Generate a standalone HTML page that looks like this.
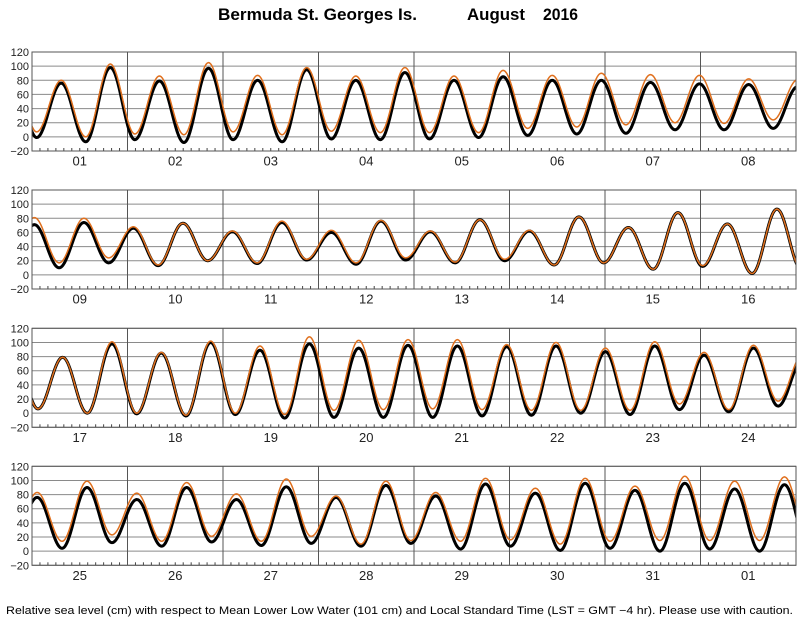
<!DOCTYPE html>
<html><head><meta charset="utf-8"><title>Bermuda St. Georges Is. August 2016</title>
<style>
html,body{margin:0;padding:0;background:#fff;}
svg{display:block;font-family:"Liberation Sans",Arial,sans-serif;}
</style></head>
<body>
<svg id="chart" width="800" height="618" viewBox="0 0 800 618">
<text x="218" y="20" font-size="17" font-weight="bold" textLength="199" lengthAdjust="spacingAndGlyphs">Bermuda St. Georges Is.</text>
<text x="467" y="20" font-size="17" font-weight="bold" textLength="58" lengthAdjust="spacingAndGlyphs">August</text>
<text x="543" y="20" font-size="17" font-weight="bold" textLength="35" lengthAdjust="spacingAndGlyphs">2016</text>
<text x="6" y="614" font-size="11" textLength="787" lengthAdjust="spacingAndGlyphs">Relative sea level (cm) with respect to Mean Lower Low Water (101 cm) and Local Standard Time (LST = GMT −4 hr). Please use with caution.</text>
<g id="panels"></g>
</svg>
<script>
// Day labels per panel
const dayLabels1 = ["01","02","03","04","05","06","07","08"];
const dayLabels2 = ["09","10","11","12","13","14","15","16"];
const dayLabels3 = ["17","18","19","20","21","22","23","24"];
const dayLabels4 = ["25","26","27","28","29","30","31","01"];
const yTicks = [120,100,80,60,40,20,0,-20];
const yTickLabels = ["120","100","80","60","40","20","0","\u221220"];
// First extremum time (hours from panel start) and interval between extrema
const firstExtremumHour = [-5.0, -5.62, -4.7, -4.96];
const extremumStep = [6.17, 6.22, 6.2, 6.26];
// Predicted (black) extremum heights, cm
const predicted1 = [95,-1,76,-7,98,-4,79,-8,97,-4,80,-7,95,-3,80,-4,91,-3,80,-1,85,2,80,4,80,5,77,10,75,10,74,12,71];
const predicted2 = [12,71,10,74,17,66,13,73,20,61,16,74,21,60,15,76,21,61,17,78,20,62,14,82,17,67,8,88,12,72,2,93,7];
const predicted3 = [93,6,79,0,98,-1,85,-4,100,-2,89,-7,98,-6,92,-6,96,-6,95,-4,94,-3,95,0,87,-2,95,5,82,2,92,10,76];
const predicted4 = [10,76,4,90,12,73,7,90,13,73,8,91,11,76,7,93,11,78,3,95,7,82,1,96,4,86,0,96,3,88,0,94,0];
// Observed (orange) extremum heights, cm
const observed1 = [100,7,80,0,103,4,86,3,105,7,87,3,98,8,86,6,98,6,86,6,94,12,87,14,90,17,88,20,87,19,82,24,81];
const observed2 = [24,81,17,80,24,68,14,73,20,62,17,76,22,63,17,77,24,62,18,78,22,63,14,82,17,67,8,88,13,72,2,93,7];
const observed3 = [93,6,79,0,101,0,86,-3,102,0,95,-2,108,4,103,5,104,6,104,5,97,4,100,4,92,4,101,13,86,5,96,17,83];
const observed4 = [17,83,14,99,23,82,14,97,21,81,14,102,21,78,10,99,15,83,14,103,16,89,10,103,14,92,15,106,15,99,15,105,15];

const NS = "http://www.w3.org/2000/svg";
const panelTops = [52, 190, 328.3, 466.3];
const PH = 99, PL = 32, DAYW = 95.5, NDAYS = 8;
const allDays = [dayLabels1, dayLabels2, dayLabels3, dayLabels4];
const allPred = [predicted1, predicted2, predicted3, predicted4];
const allObs = [observed1, observed2, observed3, observed4];
const root = document.getElementById("panels");

function mk(tag, attrs, parent) {
  const e = document.createElementNS(NS, tag);
  for (const k in attrs) e.setAttribute(k, attrs[k]);
  parent.appendChild(e);
  return e;
}
function xScale(h) { return PL + h / 24 * DAYW; }
function yScale(p, v) { return panelTops[p] + (120 - v) / 140 * PH; }

function seriesPath(p, vals) {
  const t0 = firstExtremumHour[p], st = extremumStep[p];
  let d = "";
  for (let i = 0; i < vals.length - 1; i++) {
    const a = vals[i], b = vals[i + 1];
    for (let s = 0; s <= 24; s++) {
      if (i > 0 && s === 0) continue;
      const f = s / 24;
      const t = t0 + (i + f) * st;
      const v = a + (b - a) * (1 - Math.cos(Math.PI * f)) / 2;
      d += (d ? "L" : "M") + xScale(t).toFixed(2) + "," + yScale(p, v).toFixed(2);
    }
  }
  return d;
}

for (let p = 0; p < 4; p++) {
  const top = panelTops[p], bot = top + PH, right = PL + NDAYS * DAYW;
  const g = mk("g", {}, root);
  
  
  const cp = mk("clipPath", { id: "clip" + p }, g);
  mk("rect", { x: PL, y: top, width: right - PL, height: PH }, cp);
  yTicks.forEach((v, i) => {
    const y = yScale(p, v);
    const ln = mk("line", { x1: PL, x2: right, y1: y, y2: y, stroke: "#8a8a8a", "stroke-width": 1 }, g);
    
    
    const tx = mk("text", { x: 29, y: y + 4, "font-size": 11, "text-anchor": "end", fill: "#222" }, g);
    
    
    tx.textContent = yTickLabels[i];
  });
  for (let h = 2; h < NDAYS * 24; h += 2) {
    if (h % 24 === 0) continue;
    const x = xScale(h);
    const tk = mk("line", { x1: x, x2: x, y1: bot, y2: bot - 3, stroke: "#444", "stroke-width": 1 }, g);
    
    
  }
  allDays[p].forEach((lab, d) => {
    if (d > 0) {
      const x = xScale(d * 24);
      const dv = mk("line", { x1: x, x2: x, y1: top, y2: bot, stroke: "#555", "stroke-width": 1 }, g);
      
      
    }
    const tx = mk("text", { x: xScale(d * 24 + 12), y: bot + 14.5, "font-size": 13, "text-anchor": "middle", fill: "#222" }, g);
    
    
    tx.textContent = lab;
  });
  const cg = mk("g", { "clip-path": "url(#clip" + p + ")" }, g);
  const pred = mk("path", { d: seriesPath(p, allPred[p]), fill: "none", stroke: "#000", "stroke-width": 3, "stroke-linejoin": "round" }, cg);
  
  
  const obs = mk("path", { d: seriesPath(p, allObs[p]), fill: "none", stroke: "#e0701e", "stroke-width": 1.5, "stroke-linejoin": "round" }, cg);
  
  
  const fr = mk("rect", { x: PL, y: top, width: right - PL, height: PH, fill: "none", stroke: "#555", "stroke-width": 1 }, g);
  
  
}
</script>
</body></html>
